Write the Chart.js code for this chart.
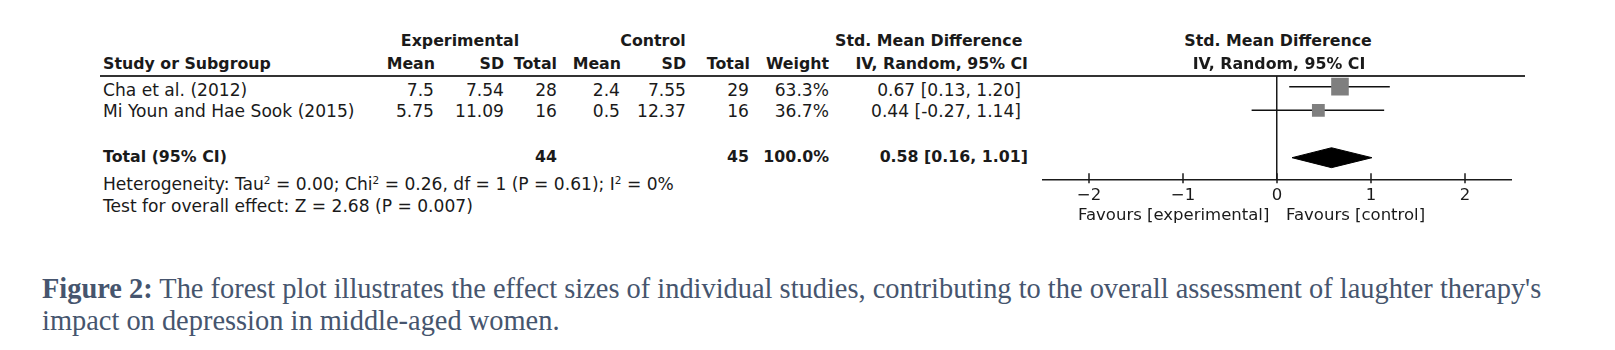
<!DOCTYPE html>
<html lang="en">
<head>
  <meta charset="UTF-8" />
  <title>Forest plot - laughter therapy</title>
  <script src="https://cdn.jsdelivr.net/npm/chart.js"></script>
  <style>
    body {
      margin: 0;
      width: 1615px;
      height: 350px;
      position: relative;
      overflow: hidden;
      background: #fff;
      font-family: "DejaVu Sans", sans-serif;
      color: #1a1a1a;
    }
    .t {
      position: absolute;
      white-space: nowrap;
      font-size: 17.1px;
      line-height: 20px;
      transform: translateY(-50%);
    }
    .t.c { transform: translate(-50%, -50%); }
    .t.s { font-size: 16.5px; }
    .b { font-weight: bold; font-size: 15.8px; }
    sup { font-size: 10.5px; line-height: 0; vertical-align: 6px; }
    #rule {
      position: absolute;
      left: 100px;
      top: 75px;
      width: 1425px;
      border-top: 2px solid #333;
    }
    #plotWrap {
      position: absolute;
      left: 1042px;
      top: 70px;
      width: 470px;
      height: 142px;
    }
    .cap {
      position: absolute;
      left: 42px;
      font-family: "Liberation Serif", serif;
      font-size: 24px;
      line-height: 30px;
      color: #46556e;
      white-space: nowrap;
      transform: translateY(-50%);
    }
  </style>
</head>
<body>
  <div id="rule"></div>
  <div id="plotWrap"><canvas id="forest"></canvas></div>
  <div class="cap" id="cap1" style="top:289px"><b>Figure 2:</b> The forest plot illustrates the effect sizes of individual studies, contributing to the overall assessment of laughter therapy's</div>
  <div class="cap" id="cap2" style="top:321px">impact on depression in middle-aged women.</div>

  <script>
    const studies = ["Cha et al. (2012)", "Mi Youn and Hae Sook (2015)"];
    const expMean = [7.5, 5.75];
    const expSD = [7.54, 11.09];
    const expN = [28, 16];
    const ctlMean = [2.4, 0.5];
    const ctlSD = [7.55, 12.37];
    const ctlN = [29, 16];
    const weights = [63.3, 36.7];
    const smd = [0.67, 0.44];
    const ciLow = [0.13, -0.27];
    const ciHigh = [1.20, 1.14];
    const totalSmd = 0.58;
    const totalLow = 0.16;
    const totalHigh = 1.01;
    const xTicks = [-2, -1, 0, 1, 2];

    // table text
    function put(html, x, y, align, cls) {
      const d = document.createElement("div");
      d.className = "t" + (cls ? " " + cls : "") + (align === "center" ? " c" : "");
      d.innerHTML = html;
      d.style.top = y + "px";
      if (align === "right") d.style.right = (1615 - x) + "px";
      else d.style.left = x + "px";
      document.body.appendChild(d);
    }
    const ci = (m, l, h) => `${m.toFixed(2)} [${l.toFixed(2)}, ${h.toFixed(2)}]`;
    const sum = a => a.reduce((s, v) => s + v, 0);

    put("Experimental", 460, 41, "center", "b");
    put("Control", 653, 41, "center", "b");
    put("Std. Mean Difference", 835, 41, "left", "b");
    put("Std. Mean Difference", 1278, 41, "center", "b");

    put("Study or Subgroup", 103, 64, "left", "b");
    put("Mean", 435, 64, "right", "b");
    put("SD", 504, 64, "right", "b");
    put("Total", 557, 64, "right", "b");
    put("Mean", 621, 64, "right", "b");
    put("SD", 686, 64, "right", "b");
    put("Total", 750, 64, "right", "b");
    put("Weight", 829, 64, "right", "b");
    put("IV, Random, 95% CI", 1028, 64, "right", "b");
    put("IV, Random, 95% CI", 1279, 64, "center", "b");

    const rowY = [89.5, 111];
    studies.forEach((s, i) => {
      const y = rowY[i];
      put(s, 103, y, "left");
      put(String(expMean[i]), 434, y, "right");
      put(expSD[i].toFixed(2), 504, y, "right");
      put(String(expN[i]), 557, y, "right");
      put(String(ctlMean[i]), 620, y, "right");
      put(ctlSD[i].toFixed(2), 686, y, "right");
      put(String(ctlN[i]), 749, y, "right");
      put(weights[i].toFixed(1) + "%", 829, y, "right");
      put(ci(smd[i], ciLow[i], ciHigh[i]), 1021, y, "right");
    });

    put("Total (95% CI)", 103, 157, "left", "b");
    put(String(sum(expN)), 557, 157, "right", "b");
    put(String(sum(ctlN)), 749, 157, "right", "b");
    put(sum(weights).toFixed(1) + "%", 829, 157, "right", "b");
    put(ci(totalSmd, totalLow, totalHigh), 1028, 157, "right", "b");
    put("Heterogeneity: Tau<sup>2</sup> = 0.00; Chi<sup>2</sup> = 0.26, df = 1 (P = 0.61); I<sup>2</sup> = 0%", 103, 184, "left");
    put("Test for overall effect: Z = 2.68 (P = 0.007)", 103, 206, "left");
    put("Favours [experimental]", 1078, 215, "left", "s");
    put("Favours [control]", 1286, 215, "left", "s");

    // fit caption to the reference line width
    const cap1 = document.getElementById("cap1");
    const fs = 24 * 1500 / cap1.getBoundingClientRect().width;
    cap1.style.fontSize = fs + "px";
    document.getElementById("cap2").style.fontSize = fs + "px";

    // forest plot
    const yMin = 0.55, yMax = 4.95;
    const totalRow = studies.length + 2;
    const diamondHalf = 0.42;
    const squareSide = w => 6.2 + 0.18 * w;

    const datasets = [
      {
        label: "SMD",
        data: smd.map((v, i) => ({ x: v, y: i + 1 })),
        pointStyle: "rect",
        pointRadius: weights.map(w => squareSide(w) / Math.SQRT2),
        backgroundColor: "#7f7f7f",
        borderWidth: 0
      },
      ...studies.map((s, i) => ({
        type: "line",
        label: s,
        data: [{ x: ciLow[i], y: i + 1 }, { x: ciHigh[i], y: i + 1 }],
        borderColor: "#111",
        borderWidth: 1.5,
        pointRadius: 0
      })),
      {
        type: "line",
        label: "Total",
        data: [
          { x: totalLow, y: totalRow },
          { x: totalSmd, y: totalRow - diamondHalf },
          { x: totalHigh, y: totalRow },
          { x: totalSmd, y: totalRow + diamondHalf },
          { x: totalLow, y: totalRow }
        ],
        fill: "shape",
        backgroundColor: "#000",
        borderColor: "#000",
        borderWidth: 1,
        pointRadius: 0,
        tension: 0
      },
      {
        // tick marks crossing the axis line
        label: "ticks",
        data: xTicks.map(v => ({ x: v, y: yMax - 0.08 })),
        pointStyle: "line",
        rotation: 90,
        pointRadius: 5,
        borderColor: "#1a1a1a",
        borderWidth: 1.5,
        clip: false
      }
    ];

    new Chart(document.getElementById("forest"), {
      type: "scatter",
      data: { datasets },
      options: {
        animation: false,
        responsive: true,
        maintainAspectRatio: false,
        layout: { autoPadding: false, padding: { top: 6, left: 0, right: 0, bottom: 0 } },
        plugins: { legend: { display: false }, tooltip: { enabled: false } },
        scales: {
          x: {
            type: "linear",
            min: -2.5,
            max: 2.5,
            afterBuildTicks: scale => { scale.ticks = xTicks.map(v => ({ value: v })); },
            ticks: {
              callback: v => (v < 0 ? "\u2212" + Math.abs(v) : String(v)),
              font: { family: "DejaVu Sans", size: 16.5 },
              color: "#1a1a1a",
              padding: 6,
              maxRotation: 0
            },
            grid: {
              color: c => (c.tick && c.tick.value === 0 ? "#1a1a1a" : "rgba(0,0,0,0)"),
              lineWidth: 1.5,
              drawTicks: false
            },
            border: { display: true, color: "#1a1a1a", width: 1.5 }
          },
          y: {
            type: "linear",
            min: yMin,
            max: yMax,
            reverse: true,
            display: false
          }
        }
      }
    });
  </script>
</body>
</html>
